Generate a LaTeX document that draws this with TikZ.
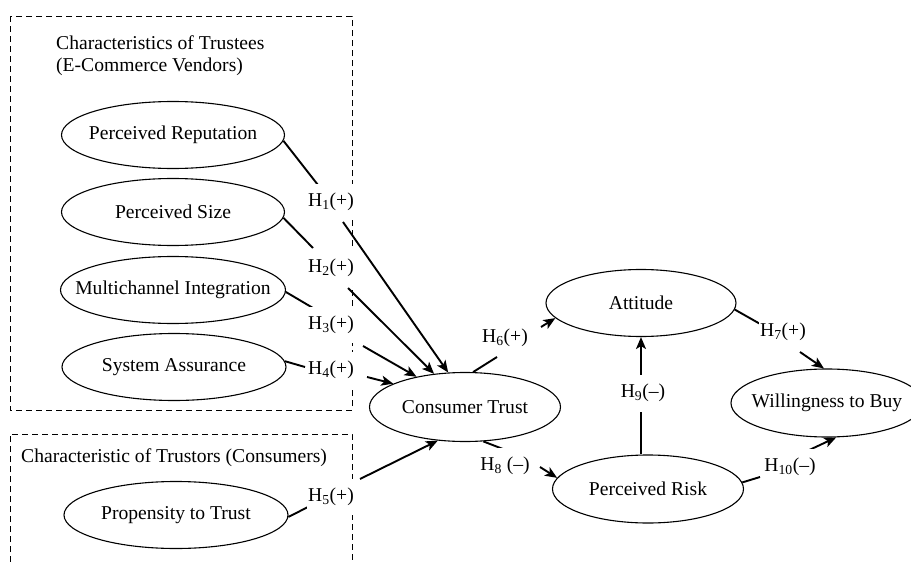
\documentclass[tikz,border=0pt]{standalone}
\usepackage{fontspec}
\setmainfont{Liberation Serif}
\usetikzlibrary{shapes.geometric,arrows.meta}
\newcommand\ctext[1]{\makebox[0pt][c]{#1}}
\begin{document}
\begin{tikzpicture}[x=1pt,y=-1pt,
  font=\fontsize{19.6}{22}\selectfont,
  var/.style={ellipse,draw,line width=1.1pt,inner sep=0pt,minimum width=#1,minimum height=67pt},
  var/.default=191pt,
  conn/.style={line width=1.9pt},
  arr/.style={line width=1.9pt,-{Stealth[length=12pt,width=10pt,inset=3pt]}},
  hyp/.style={fill=white,inner xsep=1pt,inner ysep=9pt},
  grp/.style={draw,dash pattern=on 6pt off 4pt,line width=0.9pt},
  ttl/.style={anchor=west,inner sep=0pt,align=left}
]
\useasboundingbox (0,0) rectangle (911,562);

% group boxes
\draw[grp] (10,16) rectangle (352,410);
\draw[grp] (10,562) -- (10,434) -- (352,434) -- (352,562);
\node[ttl] (t1) at (56,56) {Characteristics of Trustees\\(E-Commerce Vendors)};
\node[ttl] (t2) at (21,458) {Characteristic of Trustors (Consumers)};

% constructs
\node[var=223pt] (rep) at (173,135) {\ctext{Perceived Reputation}};
\node[var=223pt] (size) at (173,212) {\ctext{Perceived Size}};
\node[var=225pt] (multi) at (173,290) {\ctext{Multichannel Integration}};
\node[var=224pt] (sa) at (174,367) {\ctext{System Assurance}};
\node[var=224pt] (prop) at (176,515) {\ctext{Propensity to Trust}};
\node[var=191pt,minimum height=69pt] (ct) at (465,407) {\ctext{Consumer Trust}};
\node[var=190pt] (att) at (641,303) {\ctext{Attitude}};
\node[var=192pt,minimum height=68pt] (will) at (827,403) {\ctext{Willingness to Buy}};
\node[var=191pt,minimum height=68pt] (risk) at (648,489) {\ctext{Perceived Risk}};

% connector break points
\coordinate (h1a) at (318,185); \coordinate (h1b) at (343,222);
\coordinate (h2a) at (313,248); \coordinate (h2b) at (348,288);
\coordinate (h3a) at (313,308); \coordinate (h3b) at (363,346);
\coordinate (h4a) at (305,367); \coordinate (h4b) at (367,377);
\coordinate (h5a) at (308,507); \coordinate (h5b) at (360,479);
\coordinate (h6a) at (497,357); \coordinate (h6b) at (541,327);
\coordinate (h7a) at (762,325); \coordinate (h7b) at (800,352);
\coordinate (h8a) at (503,449); \coordinate (h8b) at (540,467);
\coordinate (h9a) at (641,412); \coordinate (h9b) at (641,375);
\coordinate (h10a) at (760,477); \coordinate (h10b) at (805,452);

% connectors
\draw[conn] (rep.-3) -- (h1a);   \draw[arr] (h1b) -- (ct.116);
\draw[conn] (size.-3) -- (h2a);  \draw[arr] (h2b) -- (ct.133);
\draw[conn] (multi.-1) -- (h3a); \draw[arr] (h3b) -- (ct.148);
\draw[conn] (sa.3) -- (h4a);     \draw[arr] (h4b) -- (ct.162);
\draw[conn] (prop.-1) -- (h5a);  \draw[arr] (h5b) -- (ct.231);
\draw[conn] (ct.77) -- (h6a);    \draw[arr] (h6b) -- (att.190);
\draw[conn] (att.-4) -- (h7a);   \draw[arr] (h7b) -- (will.95);
\draw[conn] (ct.298) -- (h8a);   \draw[arr] (h8b) -- (risk.173);
\draw[conn] (att.south |- risk.north) -- (h9a); \draw[arr] (h9b) -- (att.south);
\draw[conn] (risk.4) -- (h10a);  \draw[arr] (h10b) -- (will.285);

% hypothesis labels
\node[hyp] (h1) at (331,202) {H\textsubscript{1}(+)};
\node[hyp] (h2) at (331,268) {H\textsubscript{2}(+)};
\node[hyp] (h3) at (331,325) {H\textsubscript{3}(+)};
\node[hyp] (h4) at (331,370) {H\textsubscript{4}(+)};
\node[hyp] (h5) at (331,497) {H\textsubscript{5}(+)};
\node[hyp] (h6) at (505,338) {H\textsubscript{6}(+)};
\node[hyp] (h7) at (783,332) {H\textsubscript{7}(+)};
\node[hyp] (h8) at (505,466) {H\textsubscript{8} (–)};
\node[hyp] (h9) at (643,393) {H\textsubscript{9}(–)};
\node[hyp] (h10) at (790,467) {H\textsubscript{10}(–)};
\end{tikzpicture}
\end{document}
